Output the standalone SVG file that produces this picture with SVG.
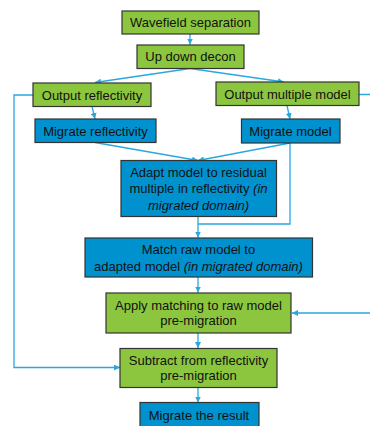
<svg xmlns="http://www.w3.org/2000/svg" width="370" height="426" viewBox="0 0 370 426">
<defs>
<style>
.g{fill:#8cc63f;stroke:#333;stroke-width:1.2}
.b{fill:#0092cf;stroke:#333;stroke-width:1.2}
.t{font-family:"Liberation Sans",Arial,sans-serif;font-size:13px;fill:#111;text-anchor:middle}
.i{font-style:italic}
.c{fill:none;stroke:#29a8e0;stroke-width:1.3}
</style>
<marker id="ah" viewBox="0 0 10 10" refX="10" refY="5" markerWidth="6" markerHeight="6" markerUnits="userSpaceOnUse" orient="auto">
<path d="M0,0L10,5L0,10z" fill="#29a8e0"/>
</marker>
</defs>
<rect width="370" height="426" fill="#fff"/>
<g id="connectors">
<path class="c" d="M190,34V44.5" marker-end="url(#ah)"/>
<path class="c" d="M190,68.5L95,82.5" marker-end="url(#ah)"/>
<path class="c" d="M190,68.5L284,82" marker-end="url(#ah)"/>
<path class="c" d="M92,106.5L95,119" marker-end="url(#ah)"/>
<path class="c" d="M287,105.5L290,119" marker-end="url(#ah)"/>
<path class="c" d="M95,142.5L198,160.5" marker-end="url(#ah)"/>
<path class="c" d="M290,143L198,160.5" marker-end="url(#ah)"/>
<path class="c" d="M290,143V224H198"/>
<path class="c" d="M198,216.5V237.5" marker-end="url(#ah)"/>
<path class="c" d="M198,277V292.5" marker-end="url(#ah)"/>
<path class="c" d="M198,333V348" marker-end="url(#ah)"/>
<path class="c" d="M198,387.5V402.5" marker-end="url(#ah)"/>
<path class="c" d="M33,95H14V367.5H120" marker-end="url(#ah)"/>
<path class="c" d="M359,94.5H378V313H292" marker-end="url(#ah)"/>
</g>
<g id="n1"><rect class="g" x="122" y="11" width="137" height="23"/><text class="t" x="190.5" y="27">Wavefield separation</text></g>
<g id="n2"><rect class="g" x="137" y="45" width="107" height="23.5"/><text class="t" x="190.5" y="61">Up down decon</text></g>
<g id="n3"><rect class="g" x="33" y="83" width="118" height="23.5"/><text class="t" x="92" y="99.5">Output reflectivity</text></g>
<g id="n4"><rect class="g" x="216" y="82" width="143" height="23.5"/><text class="t" x="287.5" y="98.5">Output multiple model</text></g>
<g id="n5"><rect class="b" x="35" y="119" width="121" height="23.5"/><text class="t" x="95.5" y="135.5">Migrate reflectivity</text></g>
<g id="n6"><rect class="b" x="241.5" y="119" width="98.5" height="24"/><text class="t" x="290.5" y="135.5">Migrate model</text></g>
<g id="n7"><rect class="b" x="121" y="160.5" width="155.5" height="56"/>
<text class="t" x="198.5" y="176.5">Adapt model to residual</text>
<text class="t" x="198.5" y="193">multiple in reflectivity <tspan class="i">(in</tspan></text>
<text class="t i" x="198.5" y="209.5">migrated domain)</text></g>
<g id="n8"><rect class="b" x="85" y="238" width="227.5" height="39"/>
<text class="t" x="198.5" y="253.5">Match raw model to</text>
<text class="t" x="198.5" y="270.5">adapted model <tspan class="i">(in migrated domain)</tspan></text></g>
<g id="n9"><rect class="g" x="106" y="293" width="185" height="40"/>
<text class="t" x="198.5" y="309.5">Apply matching to raw model</text>
<text class="t" x="198.5" y="325">pre-migration</text></g>
<g id="n10"><rect class="g" x="120" y="348.5" width="157" height="39"/>
<text class="t" x="198.5" y="364.5">Subtract from reflectivity</text>
<text class="t" x="198.5" y="380">pre-migration</text></g>
<g id="n11"><rect class="b" x="140" y="402.5" width="119" height="26"/><text class="t" x="199" y="419.5">Migrate the result</text></g>
</svg>
